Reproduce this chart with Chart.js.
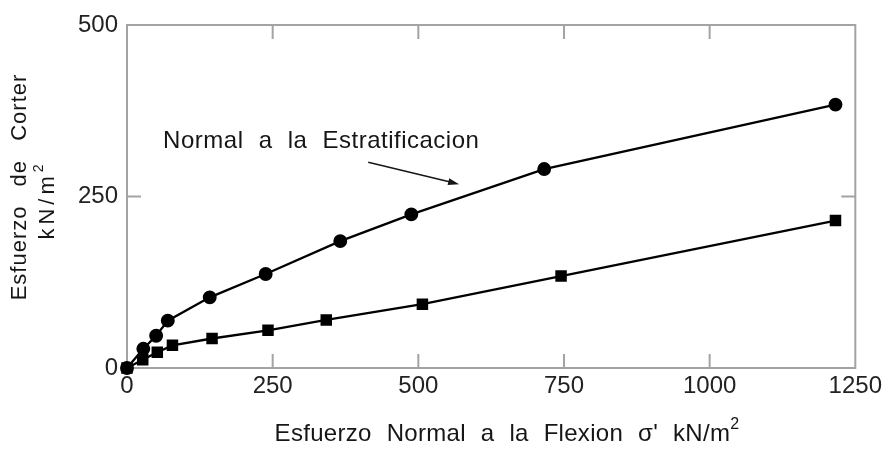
<!DOCTYPE html>
<html>
<head>
<meta charset="utf-8">
<script src="https://cdn.jsdelivr.net/npm/chart.js@4.4.1/dist/chart.umd.min.js"></script>
<style>
  html, body { margin: 0; padding: 0; background: #fff; }
  #wrap { width: 886px; height: 450px; }
</style>
</head>
<body>
<div id="wrap"><canvas id="chart" width="886" height="450"></canvas></div>
<script>
// ===== DATA =====
const normalX = [0, 28, 50, 70, 142, 238, 366, 488, 716, 1216];
const normalY = [0, 28, 47, 69, 103, 137, 185, 224, 290, 384];
const flexX = [0, 27, 52, 78, 146, 242, 342, 507, 745, 1216];
const flexY = [0, 12, 23, 33, 43, 55, 70, 93, 134, 215];
const xTicks = [0, 250, 500, 750, 1000, 1250];
const yTicks = [0, 250, 500];

const annotationText = "Normal a la Estratificacion";
const arrowFrom = { x: 414, y: 300 };
const arrowTo = { x: 570, y: 268 };
const textAt = { x: 62, y: 330 };

const FONT = "'Liberation Sans', Arial, sans-serif";
const INK = "#161616";

function toPoints(xs, ys) {
  return xs.map((x, i) => ({ x: x, y: ys[i] }));
}

// draws text with a trailing superscript, centred on cx
function drawSup(ctx, base, sup, cx, cy, size) {
  ctx.font = size + "px " + FONT;
  const w1 = ctx.measureText(base).width;
  ctx.font = Math.round(size * 0.65) + "px " + FONT;
  const w2 = ctx.measureText(sup).width;
  let x = cx - (w1 + w2) / 2;
  ctx.textAlign = "left";
  ctx.textBaseline = "middle";
  ctx.font = size + "px " + FONT;
  ctx.fillText(base, x, cy);
  ctx.font = Math.round(size * 0.65) + "px " + FONT;
  ctx.fillText(sup, x + w1, cy - size * 0.4);
}

// ===== FRAME, TICKS AND LABELS =====
const overlay = {
  id: "overlay",
  beforeDatasetsDraw(chart) {
    const { ctx, chartArea: a, scales } = chart;
    ctx.save();
    ctx.strokeStyle = "#a3a3a3";
    ctx.lineWidth = 2;
    ctx.strokeRect(a.left, a.top, a.right - a.left, a.bottom - a.top);

    const len = 14;
    ctx.beginPath();
    xTicks.slice(1, -1).forEach(v => {
      const px = scales.x.getPixelForValue(v);
      ctx.moveTo(px, a.bottom); ctx.lineTo(px, a.bottom - len);
      ctx.moveTo(px, a.top); ctx.lineTo(px, a.top + len);
    });
    yTicks.slice(1, -1).forEach(v => {
      const py = scales.y.getPixelForValue(v);
      ctx.moveTo(a.left, py); ctx.lineTo(a.left + len, py);
      ctx.moveTo(a.right, py); ctx.lineTo(a.right - len, py);
    });
    ctx.stroke();
    ctx.restore();
  },
  afterDraw(chart) {
    const { ctx, scales } = chart;
    ctx.save();
    ctx.fillStyle = INK;
    ctx.strokeStyle = INK;

    // annotation + arrow
    ctx.letterSpacing = "0.5px";
    ctx.wordSpacing = "8px";
    ctx.font = "24px " + FONT;
    ctx.textAlign = "left";
    ctx.textBaseline = "middle";
    ctx.fillText(annotationText, scales.x.getPixelForValue(textAt.x), scales.y.getPixelForValue(textAt.y));

    const x1 = scales.x.getPixelForValue(arrowFrom.x), y1 = scales.y.getPixelForValue(arrowFrom.y);
    const x2 = scales.x.getPixelForValue(arrowTo.x), y2 = scales.y.getPixelForValue(arrowTo.y);
    const ang = Math.atan2(y2 - y1, x2 - x1);
    ctx.lineWidth = 1.5;
    ctx.beginPath();
    ctx.moveTo(x1, y1);
    ctx.lineTo(x2 - 8 * Math.cos(ang), y2 - 8 * Math.sin(ang));
    ctx.stroke();
    ctx.beginPath();
    ctx.moveTo(x2, y2);
    ctx.lineTo(x2 - 11 * Math.cos(ang) + 3.5 * Math.sin(ang), y2 - 11 * Math.sin(ang) - 3.5 * Math.cos(ang));
    ctx.lineTo(x2 - 11 * Math.cos(ang) - 3.5 * Math.sin(ang), y2 - 11 * Math.sin(ang) + 3.5 * Math.cos(ang));
    ctx.closePath();
    ctx.fill();

    // x axis title
    ctx.letterSpacing = "0.3px";
    ctx.wordSpacing = "8px";
    drawSup(ctx, "Esfuerzo Normal a la Flexion \u03c3' kN/m", "2", 507, 434, 24);

    // y axis title, two lines
    ctx.translate(20, 187);
    ctx.rotate(-Math.PI / 2);
    ctx.letterSpacing = "1px";
    ctx.wordSpacing = "12px";
    ctx.font = "22px " + FONT;
    ctx.textAlign = "center";
    ctx.fillText("Esfuerzo de Corter", 0, 0);
    ctx.letterSpacing = "4px";
    drawSup(ctx, "kN/m", "2", -13, 28, 22);
    ctx.restore();
  }
};

const ctx = document.getElementById("chart");
new Chart(ctx, {
  type: "scatter",
  data: {
    datasets: [
      {
        label: "Normal a la Estratificacion",
        data: toPoints(normalX, normalY),
        showLine: true,
        borderColor: "#000",
        backgroundColor: "#000",
        borderWidth: 2.3,
        pointStyle: "circle",
        pointRadius: 5.8,
        pointHoverRadius: 5.8,
        clip: false
      },
      {
        label: "Flexion",
        data: toPoints(flexX, flexY),
        showLine: true,
        borderColor: "#000",
        backgroundColor: "#000",
        borderWidth: 2.3,
        pointStyle: "rect",
        pointRadius: 6.5,
        pointHoverRadius: 6.5,
        clip: false
      }
    ]
  },
  options: {
    responsive: false,
    animation: false,
    layout: { padding: { top: 25, right: 28, left: 0, bottom: 0 } },
    plugins: { legend: { display: false }, tooltip: { enabled: false } },
    scales: {
      x: {
        type: "linear",
        min: 0,
        max: 1250,
        afterBuildTicks: s => { s.ticks = xTicks.map(v => ({ value: v })); },
        afterFit: s => { s.height = 82; },
        grid: { display: false, drawTicks: false },
        border: { display: false },
        ticks: { padding: 4, maxRotation: 0, color: "#222", font: { family: FONT, size: 24 }, callback: v => String(v) }
      },
      y: {
        type: "linear",
        min: 0,
        max: 500,
        afterBuildTicks: s => { s.ticks = yTicks.map(v => ({ value: v })); },
        afterFit: s => { s.width = 127; },
        grid: { display: false, drawTicks: false },
        border: { display: false },
        ticks: { padding: 9, color: "#222", font: { family: FONT, size: 24 }, callback: v => String(v) }
      }
    }
  },
  plugins: [overlay]
});
</script>
</body>
</html>
